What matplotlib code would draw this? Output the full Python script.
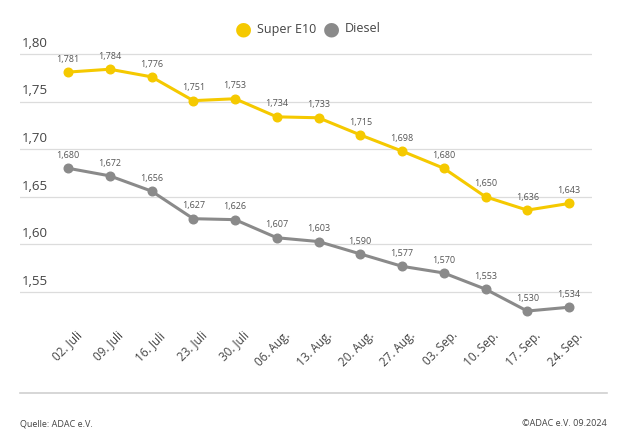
import matplotlib
matplotlib.use("Agg")
import matplotlib.pyplot as plt
import matplotlib.transforms as mtransforms

dates = ["02. Juli", "09. Juli", "16. Juli", "23. Juli", "30. Juli", "06. Aug.", "13. Aug.",
         "20. Aug.", "27. Aug.", "03. Sep.", "10. Sep.", "17. Sep.", "24. Sep."]
super_e10 = [1.781, 1.784, 1.776, 1.751, 1.753, 1.734, 1.733, 1.715, 1.698, 1.680, 1.650, 1.636, 1.643]
diesel = [1.680, 1.672, 1.656, 1.627, 1.626, 1.607, 1.603, 1.590, 1.577, 1.570, 1.553, 1.530, 1.534]
yticks = [1.55, 1.60, 1.65, 1.70, 1.75, 1.80]

YELLOW = "#F5C900"
GRAY = "#8A8A8A"
TXT = "#555555"

plt.rcParams['font.family'] = ['Open Sans', 'DejaVu Sans']

W, H = 620, 445
fig = plt.figure(figsize=(W / 100, H / 100), dpi=100)

left_px, right_px = 20, 592
top_px, bot_px = 40, 322
ax = fig.add_axes([left_px / W, 1 - bot_px / H, (right_px - left_px) / W, (bot_px - top_px) / H])

step = (569 - 68) / 12
ax.set_xlim(-(68 - left_px) / step, 12 + (right_px - 569) / step)
ppu = (292 - 54) / 0.25
ax.set_ylim(1.55 - (bot_px - 292) / ppu, 1.80 + (54 - top_px) / ppu)

for s in ax.spines.values():
    s.set_visible(False)
ax.set_xticks([])
ax.set_yticks([])

trans = mtransforms.blended_transform_factory(ax.transAxes, ax.transData)
for t in yticks:
    ax.axhline(t, color="#DCDCDC", lw=0.9, zorder=1)
    ax.text(0.004, t + 0.0045, f"{t:.2f}".replace(".", ","), transform=trans,
            ha="left", va="bottom", fontsize=9.5, color="#444444")

x = list(range(len(dates)))
for vals, col in [(super_e10, YELLOW), (diesel, GRAY)]:
    ax.plot(x, vals, color=col, lw=2.2, marker="o", ms=6.2, zorder=3, solid_capstyle="round")
    for xi, v in zip(x, vals):
        ax.annotate(f"{v:.3f}".replace(".", ","), (xi, v), xytext=(0, 6), textcoords="offset points",
                    ha="center", va="bottom", fontsize=6.5, color=TXT)

for xi, lab in zip(x, dates):
    ax.annotate(lab, (xi, ax.get_ylim()[0]), xytext=(5, -5), textcoords="offset points",
                ha="right", va="top", rotation=45, rotation_mode="anchor",
                fontsize=8.5, color="#444444", annotation_clip=False)

fig.text(243 / W, 1 - 29 / H, "●", fontsize=14, color=YELLOW, ha="center", va="center")
fig.text(257 / W, 1 - 29 / H, "Super E10", fontsize=9, color="#444444", ha="left", va="center")
fig.text(331 / W, 1 - 29 / H, "●", fontsize=14, color=GRAY, ha="center", va="center")
fig.text(345 / W, 1 - 29 / H, "Diesel", fontsize=9, color="#444444", ha="left", va="center")

fig.add_artist(plt.Line2D([20 / W, 607 / W], [1 - 393 / H, 1 - 393 / H], color="#D0D0D0", lw=1.2))

fig.text(20 / W, 1 - 424 / H, "Quelle: ADAC e.V.", fontsize=6.5, color="#444444", ha="left", va="center")
fig.text(607 / W, 1 - 424 / H, "©ADAC e.V. 09.2024", fontsize=6.5, color="#444444", ha="right", va="center")

fig.savefig("out.png", dpi=100, facecolor="white")
